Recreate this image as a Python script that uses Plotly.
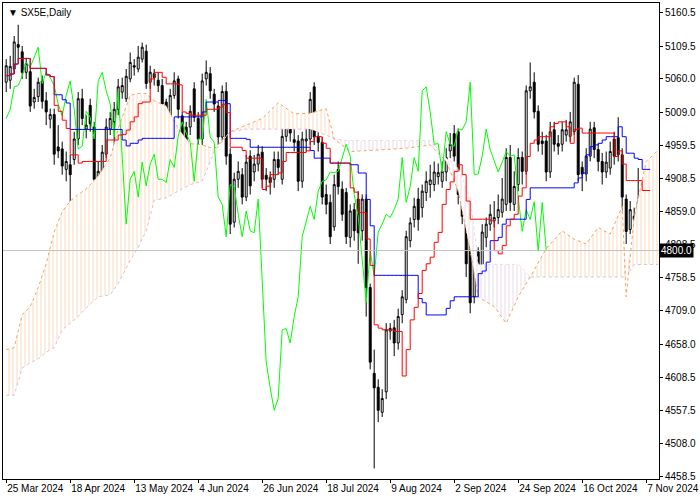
import numpy as np
import pandas as pd
import plotly.graph_objects as go

# daily candles, SX5E, 25 Mar - 8 Nov 2024
opens = [5055, 5058, 5075, 5112, 5101, 5070, 5071, 5025, 5033, 5057, 5027, 4999, 5006, 4957, 4954, 4923, 4930, 4938, 4969, 5030,
         4984, 5020, 4987, 4908, 4918, 4946, 4984, 4995, 5014, 5040, 5030, 5060, 5080, 5075, 5090, 5102, 5055, 5068, 5058, 5050,
         5025, 5004, 5035, 5060, 5004, 4987, 4987, 5045, 5000, 4969, 5060, 5068, 5037, 5019, 4972, 5041, 4946, 4843, 4908, 4915,
         4881, 4943, 4919, 4931, 4949, 4914, 4911, 4908, 4938, 4908, 4973, 4993, 4968, 4966, 4905, 4966, 4969, 5048, 4973, 4964,
         4885, 4873, 4836, 4923, 4893, 4888, 4820, 4862, 4878, 4830, 4878, 4744, 4614, 4593, 4555, 4586, 4678, 4683, 4660, 4703,
         4726, 4815, 4847, 4878, 4865, 4888, 4900, 4900, 4912, 4905, 4919, 4951, 4977, 4980, 4888, 4876, 4832, 4730, 4798, 4761,
         4820, 4840, 4845, 4850, 4858, 4870, 4941, 4870, 4900, 4941, 4920, 5042, 5055, 5011, 4966, 4966, 4919, 4983, 4962, 4961,
         4975, 4973, 4980, 5052, 4926, 4916, 4943, 4986, 4953, 4935, 4919, 4925, 4969, 4971, 4945, 4878, 4832, 4852, 4840, 4874,
         4815, 4874]
closes = [5080, 5079, 5116, 5108, 5070, 5083, 5019, 5032, 5055, 5026, 5010, 5006, 4946, 4951, 4928, 4935, 4915, 4969, 5030, 5000,
          4990, 4992, 4908, 4920, 4949, 4987, 5000, 5014, 5048, 5050, 5064, 5085, 5078, 5093, 5108, 5053, 5070, 5062, 5050, 5022,
          5004, 5035, 5057, 5014, 4954, 4958, 5011, 5002, 4969, 5057, 5070, 5042, 5022, 4972, 5041, 4943, 4840, 4908, 4920, 4881,
          4934, 4898, 4931, 4946, 4908, 4908, 4903, 4938, 4926, 4973, 4995, 4978, 4964, 4905, 4969, 4969, 5029, 4972, 4964, 4881,
          4870, 4821, 4900, 4897, 4855, 4821, 4860, 4830, 4827, 4878, 4744, 4631, 4592, 4558, 4576, 4680, 4682, 4660, 4700, 4730,
          4821, 4842, 4867, 4847, 4890, 4905, 4907, 4919, 4918, 4920, 4941, 4961, 4943, 4885, 4852, 4780, 4721, 4800, 4761, 4828,
          4840, 4855, 4850, 4862, 4878, 4941, 4873, 4897, 4941, 4920, 5042, 5048, 5010, 4961, 4962, 4919, 4980, 4961, 4958, 4983,
          4983, 4995, 5055, 4915, 4916, 4943, 4984, 4953, 4935, 4919, 4934, 4950, 4943, 4945, 4881, 4829, 4862, 4847, 4874, 4799,
          4873, 4800]
highs = [5090, 5095, 5125, 5142, 5110, 5092, 5080, 5045, 5062, 5065, 5040, 5015, 5015, 4990, 4965, 4950, 4945, 4980, 5040, 5045,
         5005, 5030, 4995, 4935, 4960, 5000, 5010, 5025, 5060, 5062, 5075, 5100, 5090, 5110, 5115, 5112, 5080, 5075, 5070, 5060,
         5030, 5045, 5070, 5065, 5010, 4995, 5020, 5055, 5010, 5068, 5088, 5078, 5045, 5025, 5050, 5055, 4955, 4918, 4935, 4925,
         4945, 4952, 4945, 4960, 4958, 4925, 4920, 4950, 4950, 4985, 5012, 5005, 4985, 4975, 4980, 4985, 5040, 5055, 4985, 4972,
         4900, 4885, 4915, 4935, 4905, 4895, 4870, 4872, 4890, 4885, 4885, 4750, 4650, 4605, 4590, 4690, 4690, 4695, 4712, 4740,
         4830, 4850, 4880, 4895, 4900, 4920, 4930, 4935, 4932, 4935, 4955, 4978, 4990, 4985, 4895, 4880, 4840, 4810, 4805, 4840,
         4850, 4870, 4875, 4885, 4910, 4955, 4960, 4920, 4955, 4950, 5050, 5085, 5070, 5020, 4980, 4975, 4995, 4995, 4975, 4995,
         4998, 5010, 5062, 5066, 4935, 4955, 4995, 4995, 4962, 4948, 4950, 4965, 4980, 5002, 4955, 4885, 4875, 4865, 4925, 4880,
         4880, 4880]
lows = [5040, 5045, 5068, 5090, 5060, 5060, 5010, 5015, 5025, 5015, 4990, 4985, 4930, 4940, 4915, 4905, 4825, 4930, 4960, 4990,
        4970, 4980, 4895, 4890, 4905, 4940, 4975, 4935, 5005, 5030, 5025, 5055, 5065, 5070, 5085, 5045, 5045, 5050, 5040, 5010,
        4990, 4995, 5030, 5000, 4940, 4945, 4975, 4995, 4955, 4960, 5050, 5030, 5010, 4960, 4965, 4930, 4825, 4835, 4895, 4870,
        4875, 4885, 4905, 4920, 4895, 4890, 4885, 4895, 4915, 4900, 4965, 4965, 4950, 4890, 4895, 4950, 4960, 4960, 4950, 4870,
        4855, 4810, 4830, 4885, 4845, 4810, 4805, 4815, 4780, 4815, 4700, 4620, 4470, 4540, 4548, 4575, 4665, 4640, 4650, 4690,
        4720, 4805, 4835, 4830, 4850, 4875, 4880, 4890, 4900, 4895, 4905, 4940, 4935, 4870, 4840, 4760, 4705, 4720, 4735, 4750,
        4805, 4830, 4835, 4840, 4850, 4860, 4860, 4860, 4890, 4900, 4915, 5030, 5000, 4950, 4945, 4905, 4910, 4950, 4945, 4950,
        4965, 4965, 4975, 4905, 4890, 4905, 4935, 4940, 4920, 4900, 4910, 4915, 4930, 4935, 4860, 4810, 4825, 4830, 4830, 4780,
        4785, 4790]

# Senkou spans (already shifted forward)
cloud_bars = [0, 2, 4, 6, 8, 10, 12, 14, 16, 18, 20, 23, 26, 28, 31, 33, 35, 37, 40, 43, 46, 49, 52, 56, 60, 64, 68, 72,
              76, 80, 82, 86, 92, 100, 106, 110, 113, 116, 118, 122, 125, 128, 131, 135, 139, 142, 145, 148, 151, 154,
              155, 157, 160, 163]
span_a = [4650, 4653, 4703, 4715, 4744, 4780, 4828, 4859, 4875, 4885, 4893, 4913, 4940, 4985, 5035, 5038, 5038, 5027,
          5019, 4985, 4962, 4960, 4954, 4980, 4990, 5000, 5024, 5007, 5008, 5015, 4969, 4950, 4952, 4955, 4960, 4935,
          4890, 4800, 4730, 4715, 4690, 4730, 4760, 4803, 4830, 4817, 4810, 4835, 4825, 4867, 4730, 4850, 4935, 4952]
span_b = [4581, 4581, 4622, 4630, 4636, 4646, 4653, 4680, 4690, 4700, 4713, 4730, 4733, 4750, 4785, 4805, 4830, 4876,
          4880, 4890, 4900, 4905, 4950, 4980, 4984, 4984, 4984, 4984, 4984, 4975, 4969, 4966, 4966, 4966, 4966, 4940,
          4925, 4878, 4779, 4779, 4779, 4779, 4760, 4760, 4760, 4760, 4760, 4760, 4760, 4760, 4760, 4779, 4779, 4779]

tick_labels = ["25 Mar 2024", "18 Apr 2024", "13 May 2024", "4 Jun 2024", "26 Jun 2024", "18 Jul 2024",
               "9 Aug 2024", "2 Sep 2024", "24 Sep 2024", "16 Oct 2024", "7 Nov 2024"]
price_ticks = [5160.5, 5109.5, 5060.0, 5009.0, 4959.5, 4908.5, 4859.0, 4808.5, 4758.5, 4709.0, 4658.0,
               4608.5, 4557.5, 4508.0, 4458.5]
last_price = 4800.0

bars = np.arange(len(closes))
df = pd.DataFrame({"o": opens, "h": highs, "l": lows, "c": closes}, index=bars)

# Ichimoku lines from the candles
tenkan = (df.h.rolling(9, min_periods=1).max() + df.l.rolling(9, min_periods=1).min()) / 2
kijun = (df.h.rolling(26, min_periods=1).max() + df.l.rolling(26, min_periods=1).min()) / 2
chikou = df.c.shift(-26)

sa = np.array(span_a, dtype=float)
sb = np.array(span_b, dtype=float)
top = np.maximum(sa, sb)

fig = go.Figure()

# cloud: orange hatch where A above B, thistle hatch where B above A
fig.add_trace(go.Scatter(x=cloud_bars, y=sb, mode="lines", line=dict(color="#D8BFD8", width=1, dash="dot"),
                         hoverinfo="skip"))
fig.add_trace(go.Scatter(x=cloud_bars, y=top, mode="lines", line=dict(width=0), fill="tonexty",
                         fillcolor="rgba(0,0,0,0)",
                         fillpattern=dict(shape="|", fgcolor="#F4A460", bgcolor="white", size=4, solidity=0.2),
                         hoverinfo="skip"))
fig.add_trace(go.Scatter(x=cloud_bars, y=sa, mode="lines", line=dict(color="#F4A460", width=1, dash="dot"),
                         hoverinfo="skip"))
fig.add_trace(go.Scatter(x=cloud_bars, y=top, mode="lines", line=dict(width=0), fill="tonexty",
                         fillcolor="rgba(0,0,0,0)",
                         fillpattern=dict(shape="|", fgcolor="#C8A8C8", bgcolor="white", size=4, solidity=0.2),
                         hoverinfo="skip"))

fig.add_hline(y=last_price, line=dict(color="#C0C0C0", width=1))

fig.add_trace(go.Scatter(x=bars, y=chikou, mode="lines", line=dict(color="#00FF00", width=1)))
fig.add_trace(go.Scatter(x=bars, y=kijun, mode="lines", line=dict(color="#0000FF", width=1, shape="hv")))
fig.add_trace(go.Scatter(x=bars, y=tenkan, mode="lines", line=dict(color="#FF0000", width=1, shape="hv")))

fig.add_trace(go.Candlestick(
    x=bars, open=df.o, high=df.h, low=df.l, close=df.c,
    increasing=dict(line=dict(color="black", width=1), fillcolor="white"),
    decreasing=dict(line=dict(color="black", width=1), fillcolor="black"),
    whiskerwidth=0,
))

fig.add_annotation(x=1, xref="paper", y=last_price, yref="y", text="4800.0", showarrow=False,
                   xanchor="left", bgcolor="black", font=dict(color="white", size=10, family="Liberation Sans"),
                   borderpad=1)
fig.add_annotation(x=0.005, xref="paper", y=0.995, yref="paper", text="▼ SX5E,Daily", showarrow=False,
                   xanchor="left", yanchor="top", font=dict(color="black", size=10, family="Liberation Sans"))

fig.update_layout(
    width=700, height=500,
    margin=dict(l=3, r=41, t=3, b=21),
    paper_bgcolor="white", plot_bgcolor="white",
    showlegend=False,
    font=dict(family="Liberation Sans", size=10, color="black"),
    xaxis=dict(range=[-0.8, 163.2], tickvals=list(range(0, 161, 16)), ticktext=tick_labels,
               ticks="outside", ticklen=3, tickcolor="black", ticklabelposition="outside right",
               tickangle=0, automargin=False,
               showgrid=False, zeroline=False, rangeslider=dict(visible=False),
               showline=True, linecolor="black", mirror=True),
    yaxis=dict(range=[4454, 5175], side="right", tickvals=price_ticks, automargin=False,
               ticktext=[f"{v:.1f}" for v in price_ticks], ticks="outside", ticklen=3, tickcolor="black",
               showgrid=False, zeroline=False, showline=True, linecolor="black", mirror=True),
)

# drop the page's default body margin so the chart sits at the top-left corner
fig.write_html("out.html", config={"displayModeBar": False},
               post_script="document.body.style.margin='0';")
